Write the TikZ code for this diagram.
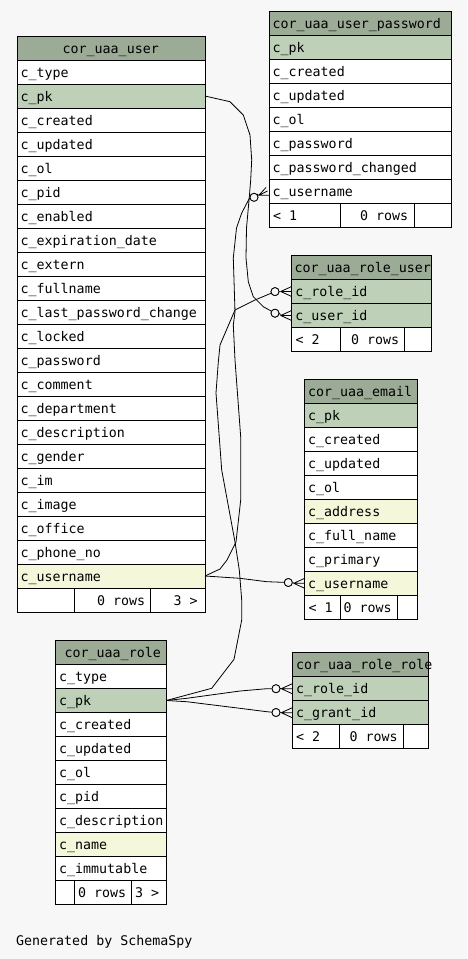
\documentclass[tikz,border=0pt]{standalone}
\usepackage{fontspec}
\setmonofont{DejaVu Sans Mono}

\definecolor{pagebg}{HTML}{F7F7F7}
\definecolor{headcol}{HTML}{9BAB96}
\definecolor{pkcol}{HTML}{BED1B8}
\definecolor{idxcol}{HTML}{F4F7DA}

\newcommand\erfont{\ttfamily\fontsize{13.3}{16}\selectfont}

\tikzset{
  cellbox/.style={draw=black, line width=0.9pt, anchor=north west,
    minimum height=24pt, inner sep=0pt, outer sep=0pt},
  celltext/.style={anchor=base west, inner sep=0pt, font=\erfont},
  fkdot/.style={circle, draw=black, fill=pagebg, line width=0.8pt,
    minimum size=8pt, inner sep=0pt},
  rel/.style={draw=black, line width=0.8pt, line join=round},
}

% one table cell: name, left x, top y, width, fill, text x, text
\newcommand\dbcell[7]{%
  \node[cellbox, fill=#5, minimum width=#4pt] (#1) at (#2,#3) {};
  \node[celltext] (#1-t) at (#6,#3+17) {#7};}

% crow's foot with optional circle, from a circle node to a column row
\newcommand\crowfoot[2]{%
  \draw[rel] (#1.east) -- ([xshift=-11pt]#2.west) coordinate (#1-apex);
  \draw[rel] (#1-apex) -- ([yshift=5pt]#2.west)
             (#1-apex) -- (#2.west)
             (#1-apex) -- ([yshift=-5pt]#2.west);}

\begin{document}
\begin{tikzpicture}[x=1pt, y=-1pt]
\fill[pagebg] (0,0) rectangle (467,959);
\useasboundingbox (0,0) rectangle (467,959);

% ---------- cor_uaa_user ----------
\dbcell{user}{17}{36}{188}{headcol}{62.5}{cor\_uaa\_user}
\foreach \rk/\rl/\rf [count=\i] in {
  type/c\_type/white, pk/c\_pk/pkcol, created/c\_created/white,
  updated/c\_updated/white, ol/c\_ol/white, pid/c\_pid/white,
  enabled/c\_enabled/white, expdate/c\_expiration\_date/white,
  extern/c\_extern/white, fullname/c\_fullname/white,
  lastpw/c\_last\_password\_change/white, locked/c\_locked/white,
  password/c\_password/white, comment/c\_comment/white,
  department/c\_department/white, description/c\_description/white,
  gender/c\_gender/white, im/c\_im/white, image/c\_image/white,
  office/c\_office/white, phone/c\_phone\_no/white,
  username/c\_username/idxcol}
  {\dbcell{user-\rk}{17}{36+24*\i}{188}{\rf}{20.5}{\rl}}
\dbcell{user-f1}{17}{588}{57}{white}{20}{}
\dbcell{user-f2}{74}{588}{76}{white}{96.8}{0 rows}
\dbcell{user-f3}{150}{588}{55}{white}{173.5}{3 >}

% ---------- cor_uaa_user_password ----------
\dbcell{up}{269}{11.5}{182}{headcol}{272.5}{cor\_uaa\_user\_password}
\foreach \rk/\rl/\rf [count=\i] in {
  pk/c\_pk/pkcol, created/c\_created/white, updated/c\_updated/white,
  ol/c\_ol/white, password/c\_password/white,
  pwchanged/c\_password\_changed/white, username/c\_username/white}
  {\dbcell{up-\rk}{269}{11.5+24*\i}{182}{\rf}{272.5}{\rl}}
\dbcell{up-f1}{269}{203.5}{71}{white}{273}{< 1}
\dbcell{up-f2}{340}{203.5}{74}{white}{360}{0 rows}
\dbcell{up-f3}{414}{203.5}{37}{white}{418}{}

% ---------- cor_uaa_role_user ----------
\dbcell{ru}{291.7}{255.5}{139.3}{headcol}{294.5}{cor\_uaa\_role\_user}
\foreach \rk/\rl/\rf [count=\i] in {
  role/c\_role\_id/pkcol, user/c\_user\_id/pkcol}
  {\dbcell{ru-\rk}{291.7}{255.5+24*\i}{139.3}{\rf}{295.2}{\rl}}
\dbcell{ru-f1}{291.7}{327.5}{49}{white}{295.3}{< 2}
\dbcell{ru-f2}{340.7}{327.5}{63.6}{white}{351}{0 rows}
\dbcell{ru-f3}{404.3}{327.5}{26.7}{white}{408}{}

% ---------- cor_uaa_email ----------
\dbcell{em}{304.7}{379.3}{112.6}{headcol}{307.8}{cor\_uaa\_email}
\foreach \rk/\rl/\rf [count=\i] in {
  pk/c\_pk/pkcol, created/c\_created/white, updated/c\_updated/white,
  ol/c\_ol/white, address/c\_address/idxcol, fullname/c\_full\_name/white,
  primary/c\_primary/white, username/c\_username/idxcol}
  {\dbcell{em-\rk}{304.7}{379.3+24*\i}{112.6}{\rf}{308}{\rl}}
\dbcell{em-f1}{304.7}{595.3}{35.6}{white}{308.3}{< 1}
\dbcell{em-f2}{340.3}{595.3}{57}{white}{343.5}{0 rows}
\dbcell{em-f3}{397.3}{595.3}{20}{white}{400}{}

% ---------- cor_uaa_role ----------
\dbcell{role}{55.7}{640.5}{110.6}{headcol}{64.5}{cor\_uaa\_role}
\foreach \rk/\rl/\rf [count=\i] in {
  type/c\_type/white, pk/c\_pk/pkcol, created/c\_created/white,
  updated/c\_updated/white, ol/c\_ol/white, pid/c\_pid/white,
  description/c\_description/white, name/c\_name/idxcol,
  immutable/c\_immutable/white}
  {\dbcell{role-\rk}{55.7}{640.5+24*\i}{110.6}{\rf}{59}{\rl}}
\dbcell{role-f1}{55.7}{880.5}{19}{white}{58}{}
\dbcell{role-f2}{74.7}{880.5}{56.6}{white}{77.8}{0 rows}
\dbcell{role-f3}{131.3}{880.5}{35}{white}{135}{3 >}

% ---------- cor_uaa_role_role ----------
\dbcell{rr}{292.3}{652.7}{136}{headcol}{296}{cor\_uaa\_role\_role}
\foreach \rk/\rl/\rf [count=\i] in {
  role/c\_role\_id/pkcol, grant/c\_grant\_id/pkcol}
  {\dbcell{rr-\rk}{292.3}{652.7+24*\i}{136}{\rf}{296}{\rl}}
\dbcell{rr-f1}{292.3}{724.7}{47}{white}{296}{< 2}
\dbcell{rr-f2}{339.3}{724.7}{64}{white}{349.5}{0 rows}
\dbcell{rr-f3}{403.3}{724.7}{25}{white}{406}{}

% ---------- optional-many markers ----------
\node[fkdot] (up-un-o)    at (254,197.3) {};
\node[fkdot] (ru-role-o)  at (275,291.6) {};
\node[fkdot] (ru-user-o)  at (275,313.2) {};
\node[fkdot] (em-un-o)    at (288.3,582.5) {};
\node[fkdot] (rr-role-o)  at (276,688.7) {};
\node[fkdot] (rr-grant-o) at (276,712.5) {};

% ---------- relationships ----------
\draw[rel] (user-pk.east) -- (230,101.7) -- (243.3,115) -- (250,135)
  -- (251.7,160) -- (250.7,180) -- (249.3,197) -- (246.5,228)
  -- (246,258) -- (248.3,281.7) -- (253.3,296.7) -- (263.3,306.7)
  -- (ru-user-o);
\draw[rel] (role-pk.east) -- (211.7,688.3) -- (234,659.3) -- (241.7,620)
  -- (241.7,600) -- (239.3,570) -- (235,542) -- (221.7,470)
  -- (216,393) -- (218.3,362) -- (220,345) -- (235,310) -- (255,300)
  -- (ru-role-o);
\draw[rel] (user-username.east) -- (220,569) -- (227,560) -- (236,542)
  -- (240.7,500) -- (240.7,437) -- (235,360) -- (233.3,325)
  -- (235,312) -- (233.3,258) -- (236.5,228) -- (241.7,213)
  -- (249.3,198.5) -- (up-un-o);
\draw[rel] (user-username.east) -- (240,578.3) -- (266.7,581.7)
  -- (em-un-o);
\draw[rel] (role-pk.east) -- (186.7,698.3) -- (240,691) -- (266.7,688.7)
  -- (rr-role-o);
\draw[rel] (role-pk.east) -- (186.7,701.7) -- (240,708.3) -- (266.7,711.7)
  -- (rr-grant-o);

% redraw circles above the lines
\foreach \c in {up-un-o, ru-role-o, ru-user-o, em-un-o, rr-role-o, rr-grant-o}
  \draw[black, fill=pagebg, line width=0.8pt] (\c) circle[radius=4pt];

% crow's feet
\crowfoot{ru-role-o}{ru-role}
\crowfoot{ru-user-o}{ru-user}
\crowfoot{em-un-o}{em-username}
\crowfoot{rr-role-o}{rr-role}
\crowfoot{rr-grant-o}{rr-grant}
\coordinate (up-apex) at ([xshift=-10.2pt,yshift=-3.8pt]up-username.west);
\draw[rel] (up-un-o.north east) -- (up-apex);
\draw[rel] (up-apex) -- ([yshift=-3.8pt]up-username.west)
           (up-apex) -- ([xshift=-1.5pt,yshift=0.5pt]up-username.west)
           (up-apex) -- ([xshift=-3pt,yshift=4pt]up-username.west);

\node[anchor=base west, inner sep=0pt, font=\erfont] (credit)
  at (16,945.5) {Generated by SchemaSpy};
\end{tikzpicture}
\end{document}
